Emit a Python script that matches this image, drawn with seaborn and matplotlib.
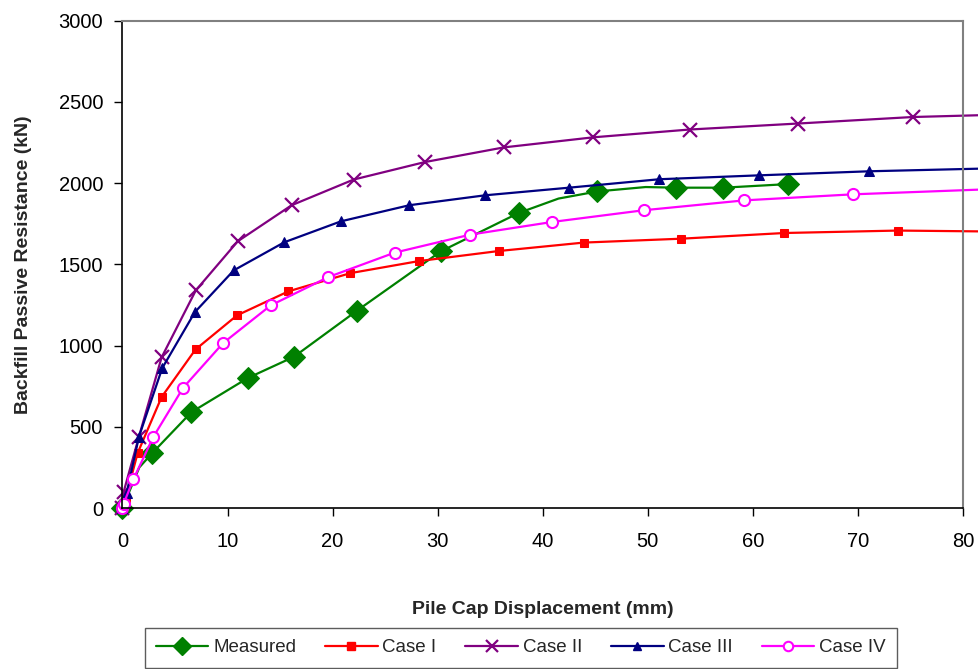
import matplotlib
matplotlib.use("Agg")
import matplotlib.pyplot as plt
from matplotlib.lines import Line2D
import seaborn as sns
import numpy as np

# ---------------- data ----------------
meas_x = [0, 1.6, 2.83, 6.56, 11.92, 16.32, 22.3, 30.3, 37.7, 41.5, 45.2, 49.8, 52.7, 57.2, 63.3]
meas_y = [0, 250, 338, 590, 800, 931, 1214, 1580, 1816, 1905, 1949, 1976, 1972, 1972, 1994]
meas_mark = [0, 2, 3, 4, 5, 6, 7, 8, 10, 12, 13, 14]

c1_x = [0, 0.3, 1.44, 3.72, 6.95, 10.9, 15.8, 21.7, 28.2, 35.8, 43.9, 53.2, 63.0, 73.8, 81.5]
c1_y = [0, 60, 338, 683, 976, 1186, 1334, 1446, 1520, 1582, 1634, 1658, 1693, 1708, 1703]
c1_mark = list(range(14))

c2_x = [0, 0.1, 1.57, 3.72, 6.98, 10.97, 16.1, 22.0, 28.8, 36.3, 44.8, 53.97, 64.3, 75.2, 81.5]
c2_y = [0, 97, 440, 927, 1340, 1642, 1864, 2022, 2130, 2220, 2282, 2330, 2367, 2407, 2418]
c2_mark = list(range(14))

c3_x = [0, 0.4, 1.57, 3.78, 6.89, 10.59, 15.4, 20.8, 27.3, 34.5, 42.5, 51.1, 60.6, 71.1, 81.5]
c3_y = [0, 94, 440, 861, 1206, 1463, 1636, 1765, 1864, 1925, 1972, 2024, 2048, 2073, 2089]
c3_mark = list(range(14))

c4_x = [0, 0.1, 1.03, 2.92, 5.77, 9.57, 14.1, 19.6, 25.9, 33.1, 40.9, 49.6, 59.2, 69.5, 81.5]
c4_y = [0, 25, 176, 436, 740, 1015, 1247, 1422, 1572, 1683, 1761, 1833, 1894, 1931, 1960]
c4_mark = list(range(14))

x_ticks = [0, 10, 20, 30, 40, 50, 60, 70, 80]
y_ticks = [0, 500, 1000, 1500, 2000, 2500, 3000]

# ---------------- styling ----------------
sns.set_theme(style="white")
plt.rcParams["font.family"] = ["Liberation Sans", "DejaVu Sans"]

W, H = 979, 669
fig = plt.figure(figsize=(W / 100, H / 100), dpi=100)
ax_l, ax_r, ax_t, ax_b = 122.5, 963, 20.7, 508
ax = fig.add_axes([ax_l / W, (H - ax_b) / H, (ax_r - ax_l) / W, (ax_b - ax_t) / H])

series = [
    ("Measured", meas_x, meas_y, meas_mark, dict(color="#008000", marker="D", markersize=11,
                                                   markerfacecolor="#008000", markeredgecolor="#008000")),
    ("Case I", c1_x, c1_y, c1_mark, dict(color="#FF0000", marker="s", markersize=6,
                                          markerfacecolor="#FF0000", markeredgecolor="#FF0000")),
    ("Case II", c2_x, c2_y, c2_mark, dict(color="#800080", marker="x", markersize=10,
                                           markeredgewidth=1.6, markeredgecolor="#800080")),
    ("Case III", c3_x, c3_y, c3_mark, dict(color="#000080", marker="^", markersize=7,
                                            markerfacecolor="#000080", markeredgecolor="#000080")),
    ("Case IV", c4_x, c4_y, c4_mark, dict(color="#FF00FF", marker="o", markersize=8,
                                           markerfacecolor="white", markeredgecolor="#FF00FF",
                                           markeredgewidth=1.5)),
]

handles = []
for name, xs, ys, mk, style in series:
    sns.lineplot(x=xs, y=ys, ax=ax, estimator=None, sort=False,
                 linewidth=1.6, markevery=mk, clip_on=False, **style)
    leg_style = dict(style)
    leg_style["markersize"] = style["markersize"] * 0.85
    handles.append(Line2D([], [], linewidth=1.6, label=name, **leg_style))

ax.set_xlim(0, 80)
ax.set_ylim(0, 3000)
ax.set_xticks(x_ticks)
ax.set_yticks(y_ticks)
ax.tick_params(axis="both", which="major", direction="out", length=6, width=1,
               color="black", labelsize=14.5, labelcolor="black",
               bottom=True, left=True, top=False, right=False)
ax.tick_params(axis="x", pad=11)
ax.tick_params(axis="y", pad=8)

for side in ["left", "bottom"]:
    ax.spines[side].set_color("black")
    ax.spines[side].set_linewidth(1.2)
for side in ["top", "right"]:
    ax.spines[side].set_color("#808080")
    ax.spines[side].set_linewidth(1.5)
ax.grid(False)

ax.set_xlabel("Pile Cap Displacement (mm)", fontsize=14, fontweight="bold", labelpad=36)
ax.set_ylabel("Backfill Passive Resistance (kN)", fontsize=14, fontweight="bold", labelpad=19)

leg = fig.legend(handles=handles, loc="upper center", ncol=5,
                 bbox_to_anchor=(520.8 / W, 1 - 628 / H), fontsize=13.5,
                 frameon=True, fancybox=False, edgecolor="#333333",
                 handlelength=2.8, handletextpad=0.25, columnspacing=1.55,
                 borderpad=0.6, borderaxespad=0)
leg.get_frame().set_linewidth(1.0)

fig.savefig("out.png", dpi=100)
